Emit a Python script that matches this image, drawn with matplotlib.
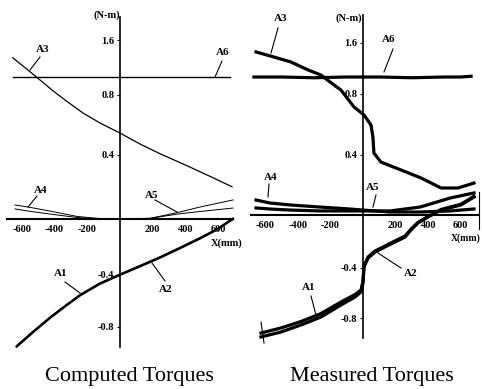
import matplotlib
matplotlib.use("Agg")
import matplotlib.pyplot as plt

plt.rcParams['font.family'] = ['Liberation Serif', 'DejaVu Serif']

# ---------------- data: computed torques (N-m) vs X (mm) ----------------
comp_a3_x = [-654, -549, -488, -409, -325, -226, -122, 0, 122, 244, 409, 567, 683]
comp_a3_y = [1.075, 0.982, 0.927, 0.855, 0.785, 0.707, 0.64, 0.573, 0.5, 0.435, 0.355, 0.275, 0.215]

comp_a6_x = [-655, 671]
comp_a6_y = [0.949, 0.949]

comp_a45_x = [-640, -561, -427, -262, -122, 0, 183, 274, 366, 488, 689]
comp_a4_y = [0.093, 0.08, 0.053, 0.017, 0.003, 0.0, 0.003, 0.02, 0.035, 0.05, 0.073]
comp_a5_y = [0.067, 0.053, 0.033, 0.01, 0.0, 0.0, 0.005, 0.025, 0.047, 0.08, 0.127]

comp_a12_x = [-630, -530, -427, -325, -244, -122, 0, 122, 244, 366, 488, 590, 689]
comp_a1_y = [-0.851, -0.755, -0.66, -0.575, -0.51, -0.432, -0.373, -0.316, -0.258, -0.195, -0.13, -0.072, 0.0]
comp_a2_y = [-0.845, -0.749, -0.655, -0.57, -0.505, -0.427, -0.368, -0.311, -0.253, -0.19, -0.125, -0.067, 0.005]

# ---------------- data: measured torques ----------------
meas_a3_x = [-656, -546, -442, -337, -258, -178, -135, -55, 6, 49, 61, 67, 110, 233, 356, 479, 583, 681]
meas_a3_y = [1.087, 1.053, 1.02, 0.967, 0.933, 0.867, 0.833, 0.72, 0.667, 0.6, 0.52, 0.413, 0.353, 0.3, 0.247, 0.18, 0.18, 0.213]

meas_a6_x = [-669, -500, -300, -100, 0, 100, 300, 500, 600, 663]
meas_a6_y = [0.92, 0.92, 0.915, 0.92, 0.92, 0.92, 0.915, 0.92, 0.92, 0.925]

meas_a45_x = [-656, -571, -448, -264, -80, 0, 166, 350, 534, 681]
meas_a4_y = [0.1, 0.08, 0.067, 0.053, 0.04, 0.033, 0.02, 0.02, 0.027, 0.04]
meas_a5_y = [0.047, 0.04, 0.033, 0.027, 0.027, 0.027, 0.027, 0.053, 0.113, 0.147]

meas_a12_x = [-626, -503, -380, -258, -135, -49, -12, 0, 6, 31, 74, 135, 196, 258, 294, 337, 399, 479, 601, 681]
meas_a1_y = [-0.813, -0.78, -0.733, -0.68, -0.6, -0.547, -0.513, -0.453, -0.347, -0.287, -0.247, -0.213, -0.18, -0.147, -0.1, -0.053, -0.013, 0.033, 0.067, 0.12]
meas_a2_y = [-0.787, -0.753, -0.71, -0.657, -0.58, -0.53, -0.5, -0.44, -0.34, -0.28, -0.24, -0.207, -0.173, -0.14, -0.095, -0.05, -0.01, 0.037, 0.072, 0.125]

x_ticks = [-600, -400, -200, 200, 400, 600]
x_tick_labels = ['-600', '-400', '-200', '200', '400', '600']
y_tick_labels = ['1.6', '0.8', '0.4', '-0.4', '-0.8']
comp_y_tick_pos = [1.193, 0.827, 0.427, -0.373, -0.72]
meas_y_tick_pos = [1.147, 0.807, 0.4, -0.353, -0.687]

W, H = 482, 389
fig = plt.figure(figsize=(W / 100, H / 100), dpi=100)

tick_font = dict(family=['Liberation Serif'], size=7.5, weight='bold')


def make_axes(rect, xlim, ylim, ybounds, xbounds, ytick_pos):
    ax = fig.add_axes(rect)
    ax.set_xlim(*xlim)
    ax.set_ylim(*ylim)
    ax.patch.set_alpha(0)
    for s in ['top', 'right']:
        ax.spines[s].set_visible(False)
    ax.spines['left'].set_position(('data', 0))
    ax.spines['bottom'].set_position(('data', 0))
    ax.spines['left'].set_bounds(*ybounds)
    ax.spines['bottom'].set_bounds(*xbounds)
    ax.spines['left'].set_linewidth(1.2)
    ax.spines['bottom'].set_linewidth(1.5)
    ax.set_xticks(x_ticks)
    ax.set_xticklabels(x_tick_labels, fontdict=tick_font)
    ax.set_yticks(ytick_pos)
    ax.set_yticklabels(y_tick_labels, fontdict=tick_font)
    ax.tick_params(axis='x', length=0, pad=4)
    ax.tick_params(axis='y', length=2, pad=2, width=0.8)
    return ax


# left: zero at px (120, 219), 0.164 px/mm, 150 px/unit
axL = make_axes([0, 0, 0.5, 1],
                ((0 - 120) / 0.164, (241 - 120) / 0.164),
                ((219 - 389) / 150, 219 / 150),
                ((219 - 347) / 150, (219 - 17) / 150),
                ((7 - 120) / 0.164, (233 - 120) / 0.164),
                comp_y_tick_pos)
# right: zero at px (363, 215), 0.163 px/mm
axR = make_axes([0.5, 0, 0.5, 1],
                ((241 - 363) / 0.163, (482 - 363) / 0.163),
                ((215 - 389) / 150, 215 / 150),
                ((215 - 338) / 150, (215 - 15) / 150),
                ((251 - 363) / 0.163, (478 - 363) / 0.163),
                meas_y_tick_pos)

k = 'black'
axL.plot(comp_a6_x, comp_a6_y, color=k, lw=1.0, zorder=3)
axL.plot(comp_a3_x, comp_a3_y, color=k, lw=0.9, zorder=3)
axL.plot(comp_a45_x, comp_a4_y, color=k, lw=0.7, zorder=3)
axL.plot(comp_a45_x, comp_a5_y, color=k, lw=0.7, zorder=3)
axL.plot(comp_a12_x, comp_a1_y, color=k, lw=1.6, zorder=3)
axL.plot(comp_a12_x, comp_a2_y, color=k, lw=1.2, zorder=3)

mlw = 2.3
axR.plot(meas_a6_x, meas_a6_y, color=k, lw=mlw, zorder=3)
axR.plot(meas_a3_x, meas_a3_y, color=k, lw=mlw, zorder=3)
axR.plot(meas_a45_x, meas_a4_y, color=k, lw=mlw, zorder=3)
axR.plot(meas_a45_x, meas_a5_y, color=k, lw=mlw, zorder=3)
axR.plot(meas_a12_x, meas_a1_y, color=k, lw=mlw, zorder=3)
axR.plot(meas_a12_x, meas_a2_y, color=k, lw=mlw, zorder=3)

# overlay in pixel coordinates for labels and leader lines
ov = fig.add_axes([0, 0, 1, 1])
ov.set_xlim(0, W)
ov.set_ylim(H, 0)
ov.axis('off')
ov.patch.set_alpha(0)

lab = dict(size=8, weight='bold', ha='center', va='center')
labels = [
    ('A3', (43, 49), (40, 57), (30, 70)),
    ('A6', (223, 52), (222, 61), (215, 77)),
    ('A4', (41, 190), (37, 196), (28, 207)),
    ('A5', (152, 195), (155, 200), (177, 212)),
    ('A1', (61, 273), (65, 282), (80, 293)),
    ('A2', (166, 290), (165, 281), (152, 263)),
    ('A3', (281, 18), (278, 28), (271, 53)),
    ('A6', (389, 39), (393, 49), (384, 72)),
    ('A4', (271, 177), (269, 184), (268, 197)),
    ('A5', (373, 187), (376, 195), (373, 207)),
    ('A2', (411, 273), (401, 268), (378, 253)),
    ('A1', (309, 287), (311, 296), (316, 315)),
]
for txt, tp, p0, p1 in labels:
    ov.text(*tp, txt, **lab)
    ov.plot([p0[0], p1[0]], [p0[1], p1[1]], color=k, lw=0.8)

ov.plot([261, 264], [322, 343], color=k, lw=0.8)
ov.plot([479, 479], [192, 229], color=k, lw=0.8)

ov.text(120, 15, '(N-m)', size=7.5, weight='bold', ha='right', va='center')
ov.text(362, 18, '(N-m)', size=7.5, weight='bold', ha='right', va='center')
ov.text(211, 243, 'X(mm)', size=7.5, weight='bold', ha='left', va='center')
ov.text(481, 238, 'X(mm)', size=7, weight='bold', ha='right', va='center')

ov.text(129, 377, 'Computed Torques', size=16, ha='center', va='center')
ov.text(372, 377, 'Measured Torques', size=16, ha='center', va='center')

fig.savefig('out.png', dpi=100)
